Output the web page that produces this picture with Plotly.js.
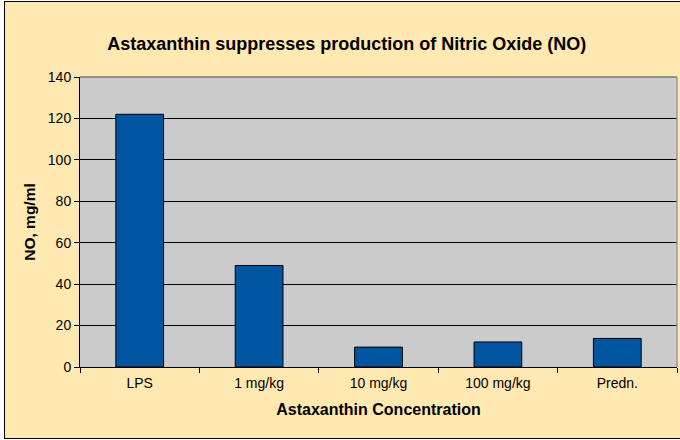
<!DOCTYPE html>
<html>
<head>
<meta charset="utf-8">
<script src="https://cdn.plot.ly/plotly-3.0.1.min.js"></script>
<style>
  html, body { margin: 0; padding: 0; background: #ffffff; }
  #wrap { position: relative; width: 680px; height: 440px; overflow: hidden; }
  #frame { position: absolute; left: 4px; top: 1px; width: 680px; height: 438px;
           background: #FFE9B0; border: 1.5px solid #000; box-sizing: border-box; }
  #chart { position: absolute; left: 0; top: 0; width: 680px; height: 440px; }
</style>
</head>
<body>
<div id="wrap">
  <div id="frame"></div>
  <div id="chart"></div>
</div>
<script>
const categories = ["LPS", "1 mg/kg", "10 mg/kg", "100 mg/kg", "Predn."];
const noValues = [122, 49, 9.6, 12.1, 13.8];
const yTicks = [0, 20, 40, 60, 80, 100, 120, 140];

const font = "Liberation Sans, Arial, sans-serif";

const trace = {
  type: "bar",
  x: categories,
  y: noValues,
  marker: { color: "#0055A0", line: { color: "#000000", width: 1 } },
  hoverinfo: "x+y"
};

const layout = {
  width: 680, height: 440,
  margin: { l: 80, r: 3, t: 77, b: 73 },
  paper_bgcolor: "rgba(0,0,0,0)",
  plot_bgcolor: "#CBCBCB",
  bargap: 0.6,
  showlegend: false,
  title: {
    text: "<b>Astaxanthin suppresses production of Nitric Oxide (NO)</b>",
    font: { family: font, size: 18, color: "#000" },
    x: 0.51, xanchor: "center", y: 0.9, yanchor: "middle"
  },
  xaxis: {
    type: "category",
    tickson: "boundaries",
    ticks: "outside", ticklen: 5, tickcolor: "#000", tickwidth: 1,
    ticklabelstandoff: 3,
    showline: true, linecolor: "#000", linewidth: 1,
    showgrid: false,
    tickfont: { family: font, size: 14, color: "#000" },
    title: { text: "<b>Astaxanthin Concentration</b>", font: { family: font, size: 16, color: "#000" }, standoff: 14 }
  },
  yaxis: {
    range: [0, 140],
    tickvals: yTicks,
    ticks: "outside", ticklen: 5, tickcolor: "#000", tickwidth: 1,
    showline: true, linecolor: "#000", linewidth: 1,
    showgrid: true, gridcolor: "#000", gridwidth: 1,
    zeroline: false,
    tickfont: { family: font, size: 14, color: "#000" },
    title: { text: "<b>NO, mg/ml</b>", font: { family: font, size: 15.5, color: "#000" }, standoff: 8 }
  },
  shapes: [
    { type: "line", xref: "paper", yref: "paper", x0: 0, x1: 1, y0: 1, y1: 1,
      line: { color: "#777777", width: 1.5 }, layer: "above" },
    { type: "line", xref: "paper", yref: "paper", x0: 1, x1: 1, y0: 0, y1: 1,
      line: { color: "#999999", width: 1.5 }, layer: "above" }
  ]
};

Plotly.newPlot("chart", [trace], layout, { displayModeBar: false, staticPlot: true });
</script>
</body>
</html>
